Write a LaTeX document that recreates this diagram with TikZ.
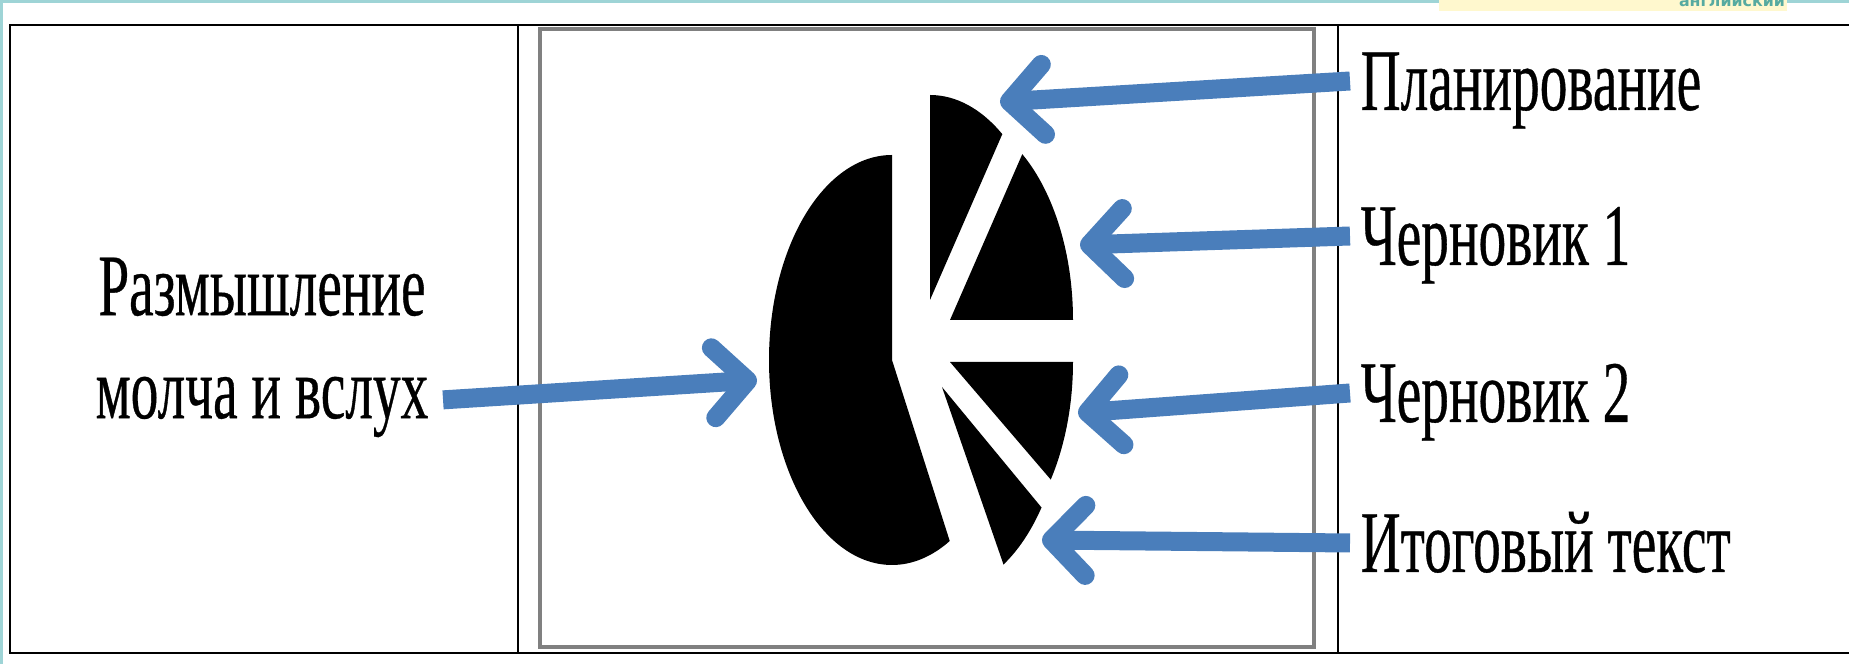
\documentclass[tikz,border=0pt]{standalone}
\usepackage{fontspec}
\setmainfont{Liberation Serif}
\newfontfamily\narrowserif[FakeStretch=0.63, FakeBold=0.4]{Liberation Serif}
\newfontfamily\logofont{DejaVu Sans}
\usetikzlibrary{arrows.meta}
\definecolor{arrowblue}{RGB}{74,126,187}
\definecolor{slidebar}{RGB}{158,212,214}
\definecolor{logoback}{RGB}{255,248,206}
\definecolor{logotext}{RGB}{86,170,160}
\begin{document}
\begin{tikzpicture}[
    tableline/.style={line width=0.025cm, black},
    picframe/.style={line width=0.04cm, draw=gray},
    stagefont/.style={font=\narrowserif\fontsize{25}{29.3}\selectfont},
    stage/.style={stagefont, inner xsep=0.1cm, inner ysep=0pt, text height=0.58cm, text depth=0pt, anchor=base west},
    pointer/.style={line width=0.19cm, arrowblue, -{Straight Barb[round, length=0.34cm, width=0.7cm]}}
  ]
  \useasboundingbox (0,0) rectangle (18.49,6.64);
  % slide edge and logo
  \fill[slidebar] (0,6.61) rectangle (18.49,6.64);
  \fill[slidebar] (0,0) rectangle (0.03,6.64);
  \fill[logoback] (14.39,6.53) rectangle (17.87,6.64);
  \begin{scope}
    \clip (14.39,6.53) rectangle (17.87,6.64);
    \node[logotext, font=\logofont\bfseries\fontsize{4.5}{5}\selectfont, anchor=base] (logo) at (17.32,6.57) {английский};
  \end{scope}
  % table
  \draw[tableline] (18.49,6.39) -- (0.10,6.39) -- (0.10,0.11) -- (18.49,0.11);
  \draw[tableline] (5.18,6.39) -- (5.18,0.11);
  \draw[tableline] (13.38,6.39) -- (13.38,0.11);
  \draw[picframe] (5.40,0.17) rectangle (13.14,6.35);
  % pie
  \foreach \px/\py/\from/\to in {8.92/3.04/90/298, 9.30/3.64/54/90, 9.50/3.44/0/54,
      9.50/3.02/-35/0, 9.42/2.77/-60/-36}
    \fill (\px,\py) -- ++(\from:1.23cm and 2.05cm)
      arc[start angle=\from, end angle=\to, x radius=1.23cm, y radius=2.05cm] -- cycle;
  % labels
  \node[stagefont, align=center, inner sep=0pt, anchor=north] (think) at (2.62,4.07)
    {Размышление\\молча и вслух};
  \node[stage] (plan) at (13.50,5.54) {Планирование};
  \node[stage] (draft1) at (13.50,3.99) {Черновик 1};
  \node[stage] (draft2) at (13.50,2.42) {Черновик 2};
  \node[stage] (final) at (13.50,0.92) {Итоговый текст};
  \coordinate (thinkTip) at (7.57,2.84);
  \coordinate (planTip) at (10.00,5.62);
  \coordinate (draft1Tip) at (10.80,4.19);
  \coordinate (draft2Tip) at (10.78,2.51);
  \coordinate (finalTip) at (10.42,1.24);
  % arrows
  \draw[pointer] ([xshift=0.14cm, yshift=0.38cm]think.south east) -- (thinkTip);
  \draw[pointer] (plan.west) -- (planTip);
  \draw[pointer] (draft1.west) -- (draft1Tip);
  \draw[pointer] (draft2.west) -- (draft2Tip);
  \draw[pointer] (final.west) -- (finalTip);
\end{tikzpicture}
\end{document}
